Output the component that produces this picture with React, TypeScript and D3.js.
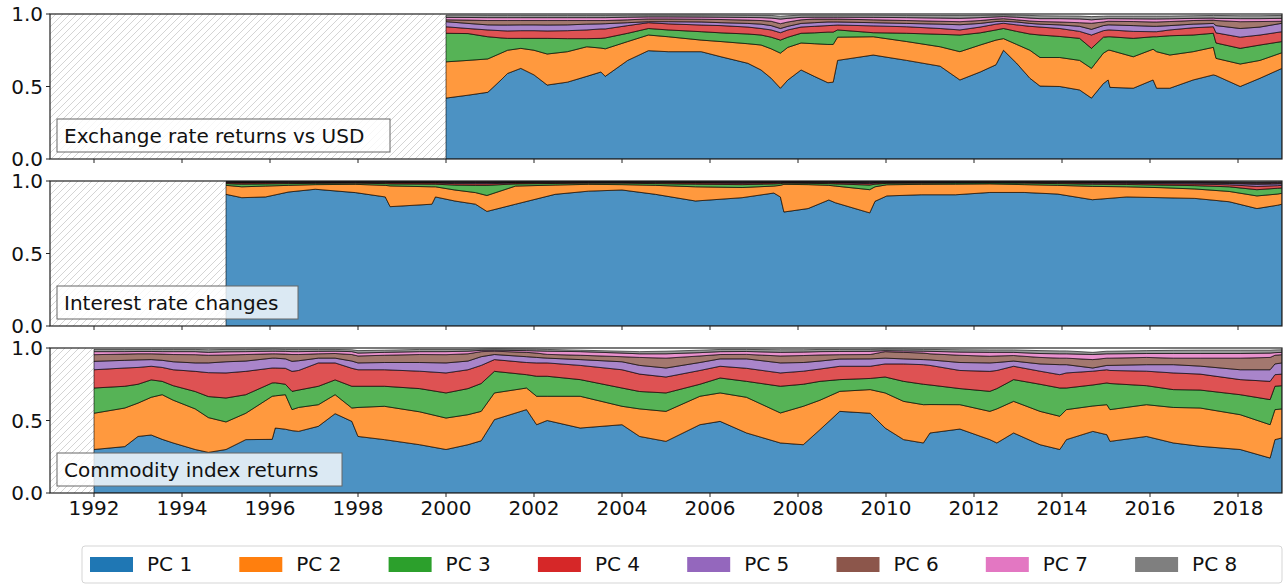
import * as d3 from 'd3';

// ---- data (cumulative explained-variance share, PC 1..k) ----
const pcNames = ['PC 1', 'PC 2', 'PC 3', 'PC 4', 'PC 5', 'PC 6', 'PC 7', 'PC 8'];
const xTicks = [1992, 1994, 1996, 1998, 2000, 2002, 2004, 2006, 2008, 2010, 2012, 2014, 2016, 2018];
const yTicks = [0, 0.5, 1.0];

// Exchange rate returns vs USD
const fxDates = [
  2000.0, 2000.5, 2000.95, 2001.25, 2001.4, 2001.7, 2002.0, 2002.3, 2002.76, 2003.2,
  2003.52, 2003.62, 2004.13, 2004.6, 2005.05, 2005.8, 2006.25, 2006.86, 2007.16, 2007.39,
  2007.6, 2007.77, 2008.07, 2008.37, 2008.68, 2008.8, 2008.9, 2009.71, 2010.47, 2011.23,
  2011.68, 2012.14, 2012.5, 2012.67, 2012.97, 2013.27, 2013.5, 2013.95, 2014.4, 2014.67,
  2014.94, 2015.05, 2015.09, 2015.62, 2016.07, 2016.15, 2016.45, 2016.98, 2017.44, 2017.5,
  2018.05, 2018.5, 2019.0,
];
const fxCum1 = [
  0.42, 0.44, 0.46, 0.545, 0.59, 0.625, 0.58, 0.51, 0.53, 0.57,
  0.60, 0.57, 0.68, 0.747, 0.74, 0.74, 0.705, 0.66, 0.614, 0.557,
  0.488, 0.545, 0.614, 0.57, 0.526, 0.53, 0.68, 0.717, 0.68, 0.64,
  0.545, 0.60, 0.65, 0.75, 0.66, 0.557, 0.503, 0.50, 0.476, 0.42,
  0.52, 0.545, 0.494, 0.488, 0.545, 0.488, 0.488, 0.545, 0.58, 0.575,
  0.50, 0.557, 0.625,
];
const fxCum2 = [
  0.67, 0.68, 0.69, 0.73, 0.75, 0.763, 0.75, 0.724, 0.74, 0.774,
  0.765, 0.76, 0.81, 0.855, 0.843, 0.82, 0.81, 0.795, 0.786, 0.76,
  0.73, 0.77, 0.80, 0.795, 0.79, 0.79, 0.84, 0.843, 0.81, 0.774,
  0.74, 0.786, 0.82, 0.83, 0.79, 0.75, 0.70, 0.70, 0.68, 0.625,
  0.73, 0.75, 0.75, 0.705, 0.757, 0.74, 0.717, 0.74, 0.77, 0.694,
  0.655, 0.68, 0.733,
];
const fxCum3 = [
  0.867, 0.865, 0.843, 0.835, 0.832, 0.832, 0.832, 0.832, 0.83, 0.83,
  0.832, 0.835, 0.867, 0.90, 0.89, 0.878, 0.87, 0.862, 0.855, 0.84,
  0.82, 0.84, 0.867, 0.87, 0.875, 0.875, 0.89, 0.871, 0.867, 0.86,
  0.855, 0.87, 0.89, 0.90, 0.88, 0.862, 0.855, 0.845, 0.832, 0.763,
  0.84, 0.843, 0.843, 0.832, 0.843, 0.843, 0.85, 0.855, 0.867, 0.80,
  0.763, 0.786, 0.81,
];
const fxCum4 = [
  0.912, 0.90, 0.89, 0.885, 0.883, 0.885, 0.885, 0.883, 0.885, 0.89,
  0.897, 0.897, 0.92, 0.94, 0.932, 0.924, 0.92, 0.91, 0.90, 0.89,
  0.871, 0.89, 0.91, 0.915, 0.92, 0.922, 0.924, 0.918, 0.912, 0.90,
  0.89, 0.91, 0.93, 0.936, 0.925, 0.915, 0.91, 0.90, 0.88, 0.855,
  0.885, 0.89, 0.89, 0.88, 0.878, 0.878, 0.89, 0.905, 0.912, 0.87,
  0.84, 0.855, 0.878,
];
const fxCum5 = [
  0.947, 0.935, 0.925, 0.924, 0.924, 0.925, 0.925, 0.924, 0.925, 0.93,
  0.932, 0.933, 0.94, 0.947, 0.947, 0.945, 0.94, 0.935, 0.93, 0.92,
  0.90, 0.915, 0.935, 0.94, 0.945, 0.945, 0.945, 0.94, 0.935, 0.93,
  0.926, 0.935, 0.948, 0.95, 0.945, 0.935, 0.93, 0.925, 0.915, 0.894,
  0.92, 0.925, 0.925, 0.92, 0.915, 0.915, 0.92, 0.93, 0.935, 0.92,
  0.90, 0.91, 0.936,
];
const fxCum6 = [
  0.96, 0.958, 0.955, 0.955, 0.955, 0.955, 0.955, 0.955, 0.955, 0.955,
  0.955, 0.955, 0.96, 0.966, 0.966, 0.964, 0.962, 0.958, 0.955, 0.95,
  0.933, 0.945, 0.96, 0.965, 0.965, 0.965, 0.965, 0.96, 0.955, 0.95,
  0.947, 0.955, 0.965, 0.968, 0.96, 0.952, 0.948, 0.945, 0.94, 0.936,
  0.945, 0.95, 0.95, 0.948, 0.945, 0.945, 0.948, 0.955, 0.958, 0.955,
  0.947, 0.948, 0.95,
];
const fxCum7 = [
  0.977, 0.976, 0.975, 0.975, 0.975, 0.975, 0.975, 0.975, 0.975, 0.975,
  0.975, 0.975, 0.978, 0.98, 0.98, 0.979, 0.978, 0.976, 0.975, 0.972,
  0.965, 0.97, 0.977, 0.978, 0.978, 0.978, 0.978, 0.977, 0.975, 0.972,
  0.97, 0.975, 0.98, 0.982, 0.978, 0.972, 0.968, 0.968, 0.966, 0.96,
  0.966, 0.968, 0.968, 0.967, 0.966, 0.966, 0.967, 0.97, 0.972, 0.97,
  0.968, 0.968, 0.97,
];
const fxCum8 = [
  0.992, 0.992, 0.991, 0.991, 0.991, 0.991, 0.991, 0.991, 0.991, 0.991,
  0.991, 0.991, 0.992, 0.993, 0.993, 0.993, 0.992, 0.991, 0.99, 0.99,
  0.985, 0.988, 0.992, 0.992, 0.992, 0.992, 0.992, 0.992, 0.991, 0.99,
  0.99, 0.991, 0.993, 0.994, 0.992, 0.99, 0.988, 0.987, 0.986, 0.982,
  0.985, 0.986, 0.986, 0.986, 0.986, 0.986, 0.986, 0.988, 0.99, 0.99,
  0.988, 0.988, 0.99,
];

// Interest rate changes
const irDates = [
  1995.0, 1995.36, 1995.9, 1996.42, 1997.03, 1997.94, 1998.62, 1998.73, 1999.68, 1999.76,
  2000.2, 2000.67, 2000.93, 2001.58, 2002.48, 2003.24, 2004.0, 2004.76, 2005.67, 2006.73,
  2007.45, 2007.6, 2007.68, 2008.23, 2008.7, 2008.85, 2009.63, 2009.75, 2010.02, 2010.8,
  2011.58, 2012.36, 2013.14, 2013.9, 2014.69, 2015.47, 2016.25, 2017.02, 2017.8, 2018.43,
  2018.9, 2019.0,
];
const irCum1 = [
  0.908, 0.885, 0.89, 0.924, 0.943, 0.92, 0.89, 0.823, 0.84, 0.89,
  0.862, 0.84, 0.79, 0.84, 0.908, 0.93, 0.938, 0.908, 0.862, 0.885,
  0.917, 0.89, 0.786, 0.81, 0.869, 0.85, 0.78, 0.86, 0.897, 0.905,
  0.905, 0.921, 0.921, 0.91, 0.871, 0.89, 0.885, 0.88, 0.857, 0.81,
  0.833, 0.84,
];
const irCum2 = [
  0.97, 0.96, 0.965, 0.97, 0.975, 0.977, 0.97, 0.966, 0.96, 0.96,
  0.938, 0.92, 0.90, 0.965, 0.972, 0.977, 0.975, 0.97, 0.96, 0.955,
  0.965, 0.97, 0.977, 0.975, 0.97, 0.965, 0.94, 0.96, 0.974, 0.977,
  0.978, 0.98, 0.975, 0.97, 0.963, 0.96, 0.954, 0.945, 0.928, 0.897,
  0.91, 0.915,
];
const irCum3 = [
  0.982, 0.978, 0.98, 0.982, 0.984, 0.985, 0.982, 0.98, 0.978, 0.978,
  0.972, 0.97, 0.97, 0.98, 0.983, 0.985, 0.985, 0.982, 0.978, 0.975,
  0.98, 0.982, 0.985, 0.984, 0.982, 0.98, 0.972, 0.978, 0.984, 0.985,
  0.986, 0.987, 0.985, 0.982, 0.978, 0.976, 0.972, 0.968, 0.96, 0.94,
  0.95, 0.952,
];
const irCum4 = [
  0.988, 0.986, 0.987, 0.988, 0.989, 0.99, 0.988, 0.987, 0.986, 0.986,
  0.982, 0.981, 0.981, 0.986, 0.988, 0.99, 0.99, 0.988, 0.986, 0.984,
  0.987, 0.988, 0.99, 0.989, 0.988, 0.987, 0.982, 0.985, 0.989, 0.99,
  0.99, 0.991, 0.99, 0.988, 0.985, 0.984, 0.981, 0.979, 0.974, 0.963,
  0.968, 0.97,
];
const irCum5 = [
  0.992, 0.99, 0.991, 0.992, 0.993, 0.993, 0.992, 0.991, 0.99, 0.99,
  0.988, 0.987, 0.987, 0.99, 0.992, 0.993, 0.993, 0.992, 0.99, 0.989,
  0.991, 0.992, 0.993, 0.993, 0.992, 0.991, 0.988, 0.99, 0.993, 0.993,
  0.993, 0.994, 0.993, 0.992, 0.99, 0.989, 0.987, 0.986, 0.983, 0.977,
  0.98, 0.981,
];
const irCum6 = [
  0.995, 0.993, 0.994, 0.995, 0.995, 0.996, 0.995, 0.994, 0.993, 0.993,
  0.992, 0.991, 0.991, 0.993, 0.995, 0.996, 0.996, 0.995, 0.993, 0.992,
  0.994, 0.995, 0.996, 0.996, 0.995, 0.994, 0.992, 0.993, 0.996, 0.996,
  0.996, 0.996, 0.996, 0.995, 0.993, 0.992, 0.991, 0.99, 0.988, 0.984,
  0.986, 0.987,
];
const irCum7 = [
  0.997, 0.996, 0.996, 0.997, 0.997, 0.997, 0.997, 0.996, 0.996, 0.996,
  0.995, 0.994, 0.994, 0.996, 0.997, 0.998, 0.998, 0.997, 0.996, 0.995,
  0.996, 0.997, 0.998, 0.998, 0.997, 0.996, 0.995, 0.996, 0.998, 0.998,
  0.998, 0.998, 0.998, 0.997, 0.996, 0.995, 0.994, 0.994, 0.992, 0.99,
  0.991, 0.992,
];
const irCum8 = [
  0.999, 0.998, 0.998, 0.999, 0.999, 0.999, 0.999, 0.998, 0.998, 0.998,
  0.997, 0.997, 0.997, 0.998, 0.999, 0.999, 0.999, 0.999, 0.998, 0.997,
  0.998, 0.999, 0.999, 0.999, 0.999, 0.998, 0.997, 0.998, 0.999, 0.999,
  0.999, 0.999, 0.999, 0.999, 0.998, 0.997, 0.997, 0.996, 0.995, 0.994,
  0.995, 0.995,
];

// Commodity index returns
const cmDates = [
  1992.0, 1992.7, 1993.0, 1993.3, 1993.55, 1993.8, 1994.3, 1994.6, 1995.0, 1995.45,
  1996.05, 1996.12, 1996.35, 1996.5, 1996.65, 1997.1, 1997.48, 1997.86, 1998.0, 1998.6,
  1999.4, 2000.0, 2000.5, 2000.8, 2001.1, 2001.83, 2002.06, 2002.3, 2003.05, 2004.0,
  2004.4, 2005.0, 2005.77, 2006.23, 2006.83, 2007.6, 2008.12, 2008.5, 2008.95, 2009.64,
  2009.98, 2010.4, 2010.85, 2011.0, 2011.68, 2012.36, 2012.52, 2012.9, 2013.5, 2013.95,
  2014.1, 2014.7, 2015.02, 2015.09, 2015.92, 2016.53, 2017.14, 2018.05, 2018.73, 2018.84,
  2019.0,
];
const cmCum1 = [
  0.30, 0.32, 0.39, 0.40, 0.37, 0.345, 0.30, 0.28, 0.30, 0.368,
  0.37, 0.448, 0.44, 0.43, 0.425, 0.46, 0.547, 0.494, 0.39, 0.368,
  0.333, 0.30, 0.333, 0.36, 0.506, 0.575, 0.471, 0.50, 0.448, 0.471,
  0.39, 0.356, 0.471, 0.494, 0.414, 0.345, 0.333, 0.437, 0.563, 0.55,
  0.448, 0.368, 0.345, 0.414, 0.441, 0.368, 0.345, 0.414, 0.333, 0.30,
  0.368, 0.425, 0.402, 0.356, 0.39, 0.345, 0.322, 0.30, 0.241, 0.368,
  0.38,
];
const cmCum2 = [
  0.55, 0.586, 0.62, 0.66, 0.678, 0.64, 0.58, 0.52, 0.49, 0.55,
  0.667, 0.67, 0.678, 0.575, 0.59, 0.609, 0.678, 0.586, 0.59, 0.598,
  0.56, 0.517, 0.54, 0.563, 0.69, 0.724, 0.667, 0.667, 0.667, 0.598,
  0.58, 0.563, 0.667, 0.69, 0.66, 0.552, 0.598, 0.64, 0.701, 0.713,
  0.69, 0.632, 0.609, 0.61, 0.609, 0.563, 0.58, 0.632, 0.563, 0.529,
  0.575, 0.60, 0.609, 0.575, 0.609, 0.59, 0.586, 0.54, 0.471, 0.575,
  0.58,
];
const cmCum3 = [
  0.724, 0.736, 0.75, 0.78, 0.77, 0.74, 0.70, 0.665, 0.655, 0.678,
  0.759, 0.76, 0.75, 0.701, 0.71, 0.736, 0.78, 0.736, 0.736, 0.736,
  0.72, 0.69, 0.72, 0.755, 0.839, 0.816, 0.805, 0.805, 0.782, 0.724,
  0.70, 0.69, 0.75, 0.793, 0.77, 0.736, 0.75, 0.77, 0.782, 0.79,
  0.80, 0.77, 0.75, 0.745, 0.72, 0.701, 0.72, 0.782, 0.75, 0.724,
  0.724, 0.745, 0.759, 0.755, 0.74, 0.713, 0.71, 0.678, 0.644, 0.736,
  0.74,
];
const cmCum4 = [
  0.85, 0.862, 0.866, 0.874, 0.866, 0.85, 0.839, 0.83, 0.828, 0.839,
  0.862, 0.862, 0.86, 0.839, 0.845, 0.897, 0.897, 0.86, 0.85, 0.85,
  0.84, 0.828, 0.85, 0.88, 0.92, 0.90, 0.897, 0.897, 0.88, 0.85,
  0.82, 0.80, 0.845, 0.874, 0.86, 0.828, 0.84, 0.855, 0.874, 0.874,
  0.89, 0.89, 0.885, 0.88, 0.845, 0.839, 0.845, 0.874, 0.84, 0.816,
  0.828, 0.84, 0.85, 0.845, 0.84, 0.828, 0.82, 0.782, 0.77, 0.816,
  0.82,
];
const cmCum5 = [
  0.908, 0.915, 0.918, 0.92, 0.915, 0.905, 0.897, 0.897, 0.905, 0.91,
  0.93, 0.93, 0.925, 0.908, 0.912, 0.93, 0.93, 0.91, 0.897, 0.90,
  0.90, 0.897, 0.91, 0.94, 0.955, 0.94, 0.935, 0.93, 0.92, 0.905,
  0.88, 0.862, 0.90, 0.925, 0.925, 0.897, 0.90, 0.91, 0.924, 0.925,
  0.93, 0.925, 0.92, 0.918, 0.90, 0.897, 0.90, 0.91, 0.89, 0.885,
  0.885, 0.862, 0.88, 0.88, 0.885, 0.885, 0.875, 0.85, 0.85, 0.89,
  0.897,
];
const cmCum6 = [
  0.954, 0.958, 0.96, 0.96, 0.958, 0.955, 0.954, 0.95, 0.952, 0.955,
  0.96, 0.96, 0.958, 0.955, 0.955, 0.96, 0.962, 0.955, 0.945, 0.95,
  0.955, 0.954, 0.96, 0.975, 0.978, 0.97, 0.965, 0.956, 0.95, 0.94,
  0.935, 0.93, 0.945, 0.955, 0.956, 0.945, 0.948, 0.952, 0.954, 0.955,
  0.975, 0.97, 0.965, 0.96, 0.95, 0.943, 0.945, 0.948, 0.935, 0.93,
  0.93, 0.92, 0.93, 0.93, 0.935, 0.93, 0.93, 0.93, 0.935, 0.95,
  0.954,
];
const cmCum7 = [
  0.975, 0.975, 0.976, 0.976, 0.975, 0.975, 0.975, 0.97, 0.974, 0.975,
  0.978, 0.978, 0.977, 0.975, 0.975, 0.977, 0.978, 0.975, 0.965, 0.97,
  0.975, 0.975, 0.978, 0.984, 0.985, 0.982, 0.98, 0.978, 0.975, 0.965,
  0.96, 0.96, 0.968, 0.975, 0.976, 0.97, 0.972, 0.975, 0.976, 0.977,
  0.982, 0.98, 0.978, 0.977, 0.972, 0.97, 0.97, 0.97, 0.962, 0.96,
  0.96, 0.955, 0.96, 0.96, 0.962, 0.962, 0.962, 0.962, 0.965, 0.968,
  0.97,
];
const cmCum8 = [
  0.99, 0.99, 0.99, 0.99, 0.99, 0.99, 0.99, 0.988, 0.99, 0.99,
  0.992, 0.992, 0.99, 0.99, 0.99, 0.99, 0.99, 0.988, 0.982, 0.985,
  0.99, 0.99, 0.99, 0.993, 0.994, 0.993, 0.992, 0.99, 0.985, 0.978,
  0.975, 0.978, 0.985, 0.99, 0.99, 0.988, 0.988, 0.99, 0.99, 0.99,
  0.993, 0.992, 0.99, 0.99, 0.988, 0.987, 0.987, 0.987, 0.982, 0.98,
  0.98, 0.97, 0.978, 0.978, 0.982, 0.984, 0.985, 0.985, 0.985, 0.987,
  0.988,
];

// ---- layout ----
const W = 1285;
const H = 585;
const LEFT = 50;
const RIGHT = 1282;
const PANEL_H = 145;
const FONT = '"DejaVu Sans", Verdana, sans-serif';
const colors = d3.schemeCategory10.slice(0, 8);

type Row = { date: number; [k: string]: number };

interface PanelSpec {
  title: string;
  top: number;
  boxWidth: number;
  dates: number[];
  cums: number[][];
}

const panels: PanelSpec[] = [
  { title: 'Exchange rate returns vs USD', top: 14, boxWidth: 333, dates: fxDates,
    cums: [fxCum1, fxCum2, fxCum3, fxCum4, fxCum5, fxCum6, fxCum7, fxCum8] },
  { title: 'Interest rate changes', top: 181, boxWidth: 241, dates: irDates,
    cums: [irCum1, irCum2, irCum3, irCum4, irCum5, irCum6, irCum7, irCum8] },
  { title: 'Commodity index returns', top: 348, boxWidth: 285, dates: cmDates,
    cums: [cmCum1, cmCum2, cmCum3, cmCum4, cmCum5, cmCum6, cmCum7, cmCum8] },
];

const x = d3.scaleLinear().domain([1991, 2019]).range([LEFT, RIGHT]);

function Panel({ spec, index, showXLabels }: { spec: PanelSpec; index: number; showXLabels: boolean }) {
  const y = d3.scaleLinear().domain([0, 1]).range([spec.top + PANEL_H, spec.top]);
  // turn cumulative levels into per-component shares, then stack them
  const rows: Row[] = spec.dates.map((date, i) => {
    const r: Row = { date };
    pcNames.forEach((name, k) => {
      const prev = k === 0 ? 0 : spec.cums[k - 1][i];
      r[name] = Math.max(0, spec.cums[k][i] - prev);
    });
    return r;
  });
  const series = d3.stack<Row>().keys(pcNames)(rows);
  const area = d3.area<d3.SeriesPoint<Row>>()
    .x(d => x(d.data.date))
    .y0(d => y(d[0]))
    .y1(d => y(d[1]));
  const start = spec.dates[0];
  const bottom = spec.top + PANEL_H;
  const clipId = `clip-${index}`;

  return (
    <g>
      <defs>
        <clipPath id={clipId}>
          <rect x={LEFT} y={spec.top} width={RIGHT - LEFT} height={PANEL_H} />
        </clipPath>
      </defs>
      <rect x={x(1991)} y={spec.top} width={x(start) - x(1991)} height={PANEL_H} fill="url(#hatch)" />
      <g clipPath={`url(#${clipId})`}>
        {series.map((s, k) => (
          <path key={s.key} d={area(s) || ''} fill={colors[k]} fillOpacity={0.8}
            stroke="#000" strokeWidth={0.7} strokeOpacity={0.85} strokeLinejoin="round" />
        ))}
      </g>
      {/* y axis */}
      {yTicks.map(t => (
        <g key={t}>
          <line x1={LEFT - 4} x2={LEFT} y1={y(t)} y2={y(t)} stroke="#222" strokeWidth={1} />
          <text x={LEFT - 7} y={y(t)} dy="0.36em" textAnchor="end" fontSize={20} fontFamily={FONT} fill="#111">
            {t.toFixed(1)}
          </text>
        </g>
      ))}
      {/* x axis */}
      {xTicks.map(t => (
        <g key={t}>
          <line x1={x(t)} x2={x(t)} y1={bottom} y2={bottom + 4} stroke="#222" strokeWidth={1} />
          {showXLabels && (
            <text x={x(t)} y={bottom + 22} textAnchor="middle" fontSize={20} fontFamily={FONT} fill="#111">
              {t}
            </text>
          )}
        </g>
      ))}
      <rect x={LEFT} y={spec.top} width={RIGHT - LEFT} height={PANEL_H} fill="none" stroke="#222" strokeWidth={1.2} />
      {/* panel label */}
      <rect x={57} y={bottom - 40} width={spec.boxWidth} height={33} fill="#fff" fillOpacity={0.8}
        stroke="#666" strokeWidth={1} />
      <text x={64} y={bottom - 16.5} fontSize={20} fontFamily={FONT} fill="#111">{spec.title}</text>
    </g>
  );
}

export default function App() {
  const legendX = 82;
  const legendY = 546;
  const step = 149.3;
  return (
    <div style={{ position: 'absolute', left: 0, top: 0 }}>
      <svg width={W} height={H} style={{ display: 'block', background: '#fff' }}>
        <defs>
          <pattern id="hatch" patternUnits="userSpaceOnUse" width={7} height={7}>
            <rect width={7} height={7} fill="#fff" />
            <path d="M-1,1 l2,-2 M0,7 l7,-7 M6,8 l2,-2" stroke="#cfcfcf" strokeWidth={0.9} />
          </pattern>
        </defs>
        {panels.map((p, i) => (
          <Panel key={p.title} spec={p} index={i} showXLabels={i === panels.length - 1} />
        ))}
        {/* legend */}
        <rect x={legendX} y={legendY} width={1200} height={37} rx={3} fill="#fff" stroke="#d5d5d5" strokeWidth={1} />
        {pcNames.map((name, k) => (
          <g key={name} transform={`translate(${legendX + 8 + k * step},${legendY + 11})`}>
            <rect width={43} height={15} fill={colors[k]} />
            <text x={57} y={14} fontSize={20} fontFamily={FONT} fill="#111">{name}</text>
          </g>
        ))}
      </svg>
    </div>
  );
}
